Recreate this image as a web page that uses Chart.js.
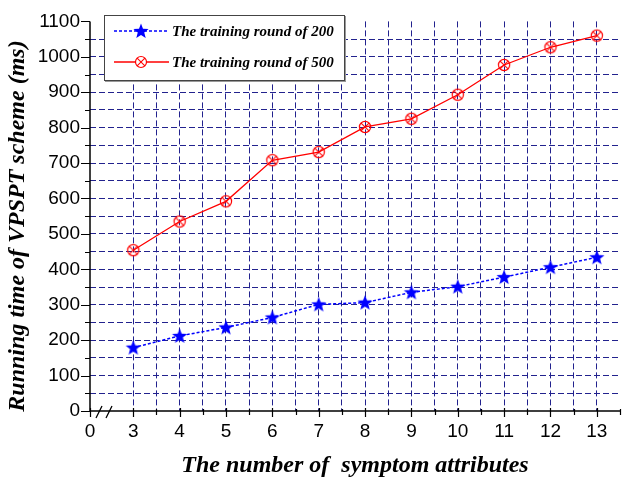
<!DOCTYPE html>
<html><head><meta charset="utf-8">
<script src="https://cdn.jsdelivr.net/npm/chart.js@4/dist/chart.umd.min.js"></script>
<style>
html,body{margin:0;padding:0;background:#fff;}
#wrap{position:relative;width:629px;height:480px;}
#legend{position:absolute;left:104px;top:15px;width:239px;height:64px;border:1.5px solid #444;background:#fff;box-shadow:1px 1px 0 #999;font:bold italic 15px "Liberation Serif",serif;color:#000;}
#legend .sym{position:absolute;left:7px;}
#legend .txt{position:absolute;left:67px;line-height:20px;white-space:nowrap;}
</style>
</head><body>
<div id="wrap">
<canvas id="c" width="629" height="480"></canvas>
<div id="legend">
  <svg class="sym" style="top:5px" width="58" height="20" viewBox="0 0 58 20">
    <line x1="2" y1="10" x2="57" y2="10" stroke="#0000ff" stroke-width="1.5" stroke-dasharray="3,2"/>
    <polygon id="starpoly" fill="#0000ff" points=""/>
  </svg>
  <span class="txt" style="top:5px">The training round of 200</span>
  <svg class="sym" style="top:36px" width="58" height="20" viewBox="0 0 58 20">
    <line x1="2" y1="10" x2="57" y2="10" stroke="#ff0000" stroke-width="1.3"/>
    <circle cx="29" cy="10" r="5.5" fill="#fff" stroke="#ff0000" stroke-width="1.2"/>
    <line x1="25.1" y1="6.1" x2="32.9" y2="13.9" stroke="#ff0000" stroke-width="1.1"/>
    <line x1="25.1" y1="13.9" x2="32.9" y2="6.1" stroke="#ff0000" stroke-width="1.1"/>
  </svg>
  <span class="txt" style="top:36px">The training round of 500</span>
</div>
</div>
<script>
// ---- data ----
const categories = [3, 4, 5, 6, 7, 8, 9, 10, 11, 12, 13];
const round200 = [179, 212, 236, 264, 301, 306, 335, 351, 378, 406, 434];
const round500 = [454, 535, 592, 708, 731, 802, 825, 893, 977, 1027, 1060];
const seriesLabels = ['The training round of 200', 'The training round of 500'];
const xTickValues = [3, 3.5, 4, 4.5, 5, 5.5, 6, 6.5, 7, 7.5, 8, 8.5, 9, 9.5, 10, 10.5, 11, 11.5, 12, 12.5, 13, 13.5];
const yTickValues = [0, 50, 100, 150, 200, 250, 300, 350, 400, 450, 500, 550, 600, 650, 700, 750, 800, 850, 900, 950, 1000, 1050, 1100];
const xAxisTitle = 'The number of  symptom attributes';
const yAxisTitle = 'Running time of VPSPT scheme (ms)';

const X_MIN = 2.066, X_MAX = 13.5, Y_MIN = 0, Y_MAX = 1100;
const GRID = '#22228e';

function starPoints(cx, cy, R, r) {
  const pts = [];
  for (let i = 0; i < 10; i++) {
    const a = -Math.PI / 2 + i * Math.PI / 5;
    const rad = i % 2 === 0 ? R : r;
    pts.push([cx + rad * Math.cos(a), cy + rad * Math.sin(a)]);
  }
  return pts;
}
document.getElementById('starpoly').setAttribute('points', starPoints(29, 10.5, 8, 3.4).map(p => p.join(',')).join(' '));

function makeStar() {
  const c = document.createElement('canvas'); c.width = 18; c.height = 18;
  const g = c.getContext('2d');
  const p = starPoints(9, 9.5, 8, 3.4);
  g.beginPath(); p.forEach((q, i) => i ? g.lineTo(q[0], q[1]) : g.moveTo(q[0], q[1])); g.closePath();
  g.fillStyle = '#0000ff'; g.fill();
  return c;
}
function makeCircleX() {
  const c = document.createElement('canvas'); c.width = 16; c.height = 16;
  const g = c.getContext('2d');
  g.strokeStyle = '#ff0000'; g.lineWidth = 1.2;
  g.beginPath(); g.arc(8, 8, 5.6, 0, Math.PI * 2); g.stroke();
  const d = 5.6 * 0.707;
  g.lineWidth = 1.1;
  g.beginPath(); g.moveTo(8 - d, 8 - d); g.lineTo(8 + d, 8 + d); g.moveTo(8 - d, 8 + d); g.lineTo(8 + d, 8 - d); g.stroke();
  return c;
}

const axesPlugin = {
  id: 'axesPlugin',
  afterDraw(chart) {
    const { ctx, chartArea: { left, right, top, bottom }, scales: { x, y } } = chart;
    ctx.save();
    ctx.strokeStyle = '#000'; ctx.lineWidth = 1.5; ctx.setLineDash([]);
    ctx.beginPath();
    ctx.moveTo(left, top); ctx.lineTo(left, bottom);
    ctx.moveTo(left, bottom); ctx.lineTo(right, bottom);
    ctx.stroke();
    ctx.lineWidth = 1.2;
    ctx.beginPath();
    yTickValues.forEach(v => {
      const py = Math.round(y.getPixelForValue(v)) + 0.5;
      const len = v % 100 === 0 ? 9 : 5;
      ctx.moveTo(left - len, py); ctx.lineTo(left, py);
    });
    [X_MIN, ...xTickValues].forEach(v => {
      const px = Math.round(x.getPixelForValue(v)) + 0.5;
      if (v === X_MIN || Number.isInteger(v)) { ctx.moveTo(px, bottom - 3); ctx.lineTo(px, bottom + 6); }
      else { ctx.moveTo(px, bottom - 2); ctx.lineTo(px, bottom + 4); }
    });
    ctx.stroke();
    // axis break marks
    ctx.lineWidth = 1.3;
    ctx.beginPath();
    ctx.moveTo(left + 6, bottom + 7); ctx.lineTo(left + 12, bottom - 5);
    ctx.moveTo(left + 16, bottom + 7); ctx.lineTo(left + 22, bottom - 5);
    ctx.stroke();
    // y axis title (placed like the original, slightly below the plot centre)
    ctx.fillStyle = '#000';
    ctx.font = 'italic bold 24px "Liberation Serif"';
    ctx.textAlign = 'center'; ctx.textBaseline = 'middle';
    ctx.translate(18, 226);
    ctx.rotate(-Math.PI / 2);
    ctx.fillText(yAxisTitle, 0, 0);
    ctx.restore();
  }
};

const titleFont = { family: 'Liberation Serif', size: 24, style: 'italic', weight: 'bold' };
const tickFont = { family: 'Liberation Sans', size: 19 };

new Chart(document.getElementById('c'), {
  type: 'line',
  data: {
    datasets: [
      {
        label: seriesLabels[0],
        data: categories.map((c, i) => ({ x: c, y: round200[i] })),
        borderColor: '#0000ff', borderWidth: 1.5, borderDash: [3, 2],
        pointStyle: makeStar(), fill: false, tension: 0
      },
      {
        label: seriesLabels[1],
        data: categories.map((c, i) => ({ x: c, y: round500[i] })),
        borderColor: '#ff0000', borderWidth: 1.3,
        pointStyle: makeCircleX(), fill: false, tension: 0
      }
    ]
  },
  options: {
    responsive: false, animation: false, devicePixelRatio: 1,
    layout: { padding: { top: 16, right: 0, left: 0, bottom: 0 } },
    plugins: { legend: { display: false }, tooltip: { enabled: false } },
    scales: {
      x: {
        type: 'linear', min: X_MIN, max: X_MAX,
        afterBuildTicks: s => { s.ticks = [X_MIN, ...xTickValues].map(v => ({ value: v })); },
        afterFit: s => { s.height = 69; },
        ticks: {
          autoSkip: false, maxRotation: 0, minRotation: 0, padding: 9, color: '#000', font: tickFont,
          callback: v => v === X_MIN ? '0' : (Number.isInteger(v) ? String(v) : '')
        },
        grid: {
          drawTicks: false, lineWidth: 1, borderDash: [6, 3],
          color: c => (c.tick && c.tick.value > X_MIN && c.tick.value < X_MAX) ? GRID : 'rgba(0,0,0,0)'
        },
        border: { display: false, dash: [6, 3] },
        title: { display: true, text: xAxisTitle, font: titleFont, color: '#000', padding: { top: 1, bottom: 0 } }
      },
      y: {
        min: Y_MIN, max: Y_MAX,
        afterBuildTicks: s => { s.ticks = yTickValues.map(v => ({ value: v })); },
        afterFit: s => { s.width = 90; },
        ticks: {
          autoSkip: false, padding: 10, color: '#000', font: tickFont,
          callback: v => v % 100 === 0 ? String(v) : ''
        },
        grid: {
          drawTicks: false, lineWidth: 1, borderDash: [6, 3],
          color: c => (c.tick && c.tick.value > Y_MIN && c.tick.value < Y_MAX) ? GRID : 'rgba(0,0,0,0)'
        },
        border: { display: false, dash: [6, 3] },
        title: { display: false }
      }
    }
  },
  plugins: [axesPlugin]
});
</script>
</body></html>
